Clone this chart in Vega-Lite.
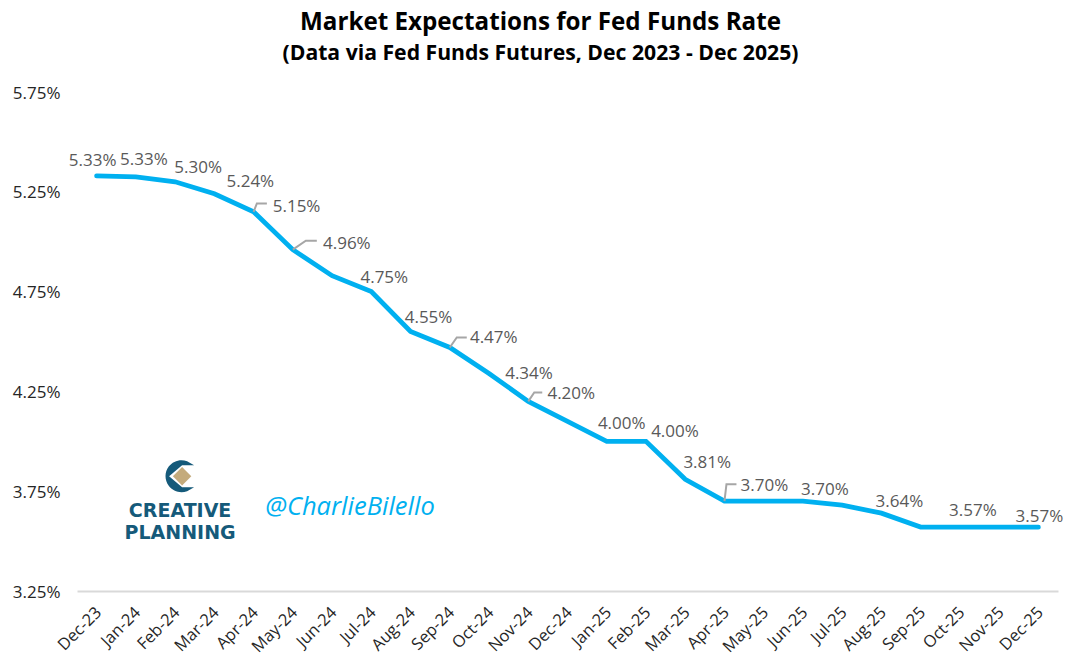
{
  "$schema": "https://vega.github.io/schema/vega-lite/v6.json",
  "autosize": "none",
  "padding": {"left": 77, "top": 92, "right": 23, "bottom": 72},
  "width": 981,
  "height": 499,
  "background": "white",
  "title": {
    "text": "Market Expectations for Fed Funds Rate",
    "subtitle": "(Data via Fed Funds Futures, Dec 2023 - Dec 2025)",
    "anchor": "middle",
    "dx": -27,
    "offset": 20,
    "font": "Open Sans",
    "fontSize": 24.2,
    "fontWeight": "bold",
    "color": "black",
    "subtitleFont": "Open Sans",
    "subtitleFontSize": 21.2,
    "subtitleFontWeight": "bold",
    "subtitleColor": "black",
    "subtitlePadding": 8
  },
  "datasets": {
    "brand": [
      {"name": "CREATIVE", "month": "Feb-24", "value": 3.75},
      {"name": "PLANNING", "month": "Feb-24", "value": 3.75},
      {"name": "@CharlieBilello", "month": "Jun-24", "value": 3.75}
    ]
  },
  "data": {
    "values": [
      {"month": "Dec-23", "rate": 5.33, "label": "5.33%"},
      {"month": "Jan-24", "rate": 5.325, "label": "5.33%"},
      {"month": "Feb-24", "rate": 5.3, "label": "5.30%"},
      {"month": "Mar-24", "rate": 5.24, "label": "5.24%"},
      {"month": "Apr-24", "rate": 5.15, "label": "5.15%"},
      {"month": "May-24", "rate": 4.96, "label": "4.96%"},
      {"month": "Jun-24", "rate": 4.83},
      {"month": "Jul-24", "rate": 4.75, "label": "4.75%"},
      {"month": "Aug-24", "rate": 4.55, "label": "4.55%"},
      {"month": "Sep-24", "rate": 4.47, "label": "4.47%"},
      {"month": "Oct-24", "rate": 4.34, "label": "4.34%"},
      {"month": "Nov-24", "rate": 4.2, "label": "4.20%"},
      {"month": "Dec-24", "rate": 4.1},
      {"month": "Jan-25", "rate": 4.0, "label": "4.00%"},
      {"month": "Feb-25", "rate": 4.0, "label": "4.00%"},
      {"month": "Mar-25", "rate": 3.81, "label": "3.81%"},
      {"month": "Apr-25", "rate": 3.7, "label": "3.70%"},
      {"month": "May-25", "rate": 3.7},
      {"month": "Jun-25", "rate": 3.7, "label": "3.70%"},
      {"month": "Jul-25", "rate": 3.68},
      {"month": "Aug-25", "rate": 3.64, "label": "3.64%"},
      {"month": "Sep-25", "rate": 3.57},
      {"month": "Oct-25", "rate": 3.57, "label": "3.57%"},
      {"month": "Nov-25", "rate": 3.57},
      {"month": "Dec-25", "rate": 3.57, "label": "3.57%"}
    ]
  },
  "encoding": {
    "x": {
      "field": "month",
      "type": "nominal",
      "sort": null,
      "title": null,
      "scale": {"type": "point", "padding": 0.5},
      "axis": {
        "labelAngle": -45,
        "labelAlign": "right",
        "labelBaseline": "top",
        "labelFont": "Open Sans",
        "labelFontSize": 16.5,
        "labelColor": "#262626",
        "labelPadding": 13,
        "labelOffset": -4,
        "labelOverlap": false,
        "ticks": false,
        "domainColor": "#d9d9d9",
        "domainWidth": 2,
        "grid": false
      }
    },
    "y": {
      "field": "rate",
      "type": "quantitative",
      "title": null,
      "scale": {"domain": [3.25, 5.75]},
      "axis": {
        "values": [3.25, 3.75, 4.25, 4.75, 5.25, 5.75],
        "labelExpr": "format(datum.value, '.2f') + '%'",
        "labelFont": "Open Sans",
        "labelFontSize": 17,
        "labelColor": "#262626",
        "labelPadding": 17,
        "labelOffset": 1,
        "ticks": false,
        "domain": false,
        "grid": false
      }
    },
    "text": {"field": "label", "type": "nominal"}
  },
  "config": {
    "view": {"stroke": null},
    "text": {"font": "Open Sans", "fontSize": 17, "color": "#595959", "baseline": "middle", "align": "center"}
  },
  "layer": [
    {"mark": {"type": "line", "stroke": "#00B0F0", "strokeWidth": 4.8, "strokeCap": "round", "strokeJoin": "miter"}},
    {"transform": [{"filter": "datum.month == 'Apr-24'"}], "mark": {"type": "point", "shape": "M0,0L3.3,-8.3L13.3,-8.3", "size": 4, "filled": false, "stroke": "#a6a6a6", "strokeWidth": 2, "opacity": 1}},
    {"transform": [{"filter": "datum.month == 'May-24'"}], "mark": {"type": "point", "shape": "M0,0L13,-9L24,-9", "size": 4, "filled": false, "stroke": "#a6a6a6", "strokeWidth": 2, "opacity": 1}},
    {"transform": [{"filter": "datum.month == 'Sep-24'"}], "mark": {"type": "point", "shape": "M0,0L7,-10L17,-10", "size": 4, "filled": false, "stroke": "#a6a6a6", "strokeWidth": 2, "opacity": 1}},
    {"transform": [{"filter": "datum.month == 'Nov-24'"}], "mark": {"type": "point", "shape": "M0,0L6,-9L14,-9", "size": 4, "filled": false, "stroke": "#a6a6a6", "strokeWidth": 2, "opacity": 1}},
    {"transform": [{"filter": "datum.month == 'Apr-25'"}], "mark": {"type": "point", "shape": "M0,0L2,-17L12,-17", "size": 4, "filled": false, "stroke": "#a6a6a6", "strokeWidth": 2, "opacity": 1}},
    {"transform": [{"filter": "datum.month == 'Dec-23'"}], "mark": {"type": "text", "dx": -4, "dy": -15}},
    {"transform": [{"filter": "datum.month == 'Jan-24'"}], "mark": {"type": "text", "dx": 8, "dy": -17}},
    {"transform": [{"filter": "datum.month == 'Feb-24'"}], "mark": {"type": "text", "dx": 23, "dy": -14}},
    {"transform": [{"filter": "datum.month == 'Mar-24'"}], "mark": {"type": "text", "dx": 36, "dy": -12}},
    {"transform": [{"filter": "datum.month == 'Apr-24'"}], "mark": {"type": "text", "dx": 43, "dy": -5}},
    {"transform": [{"filter": "datum.month == 'May-24'"}], "mark": {"type": "text", "dx": 54, "dy": -6}},
    {"transform": [{"filter": "datum.month == 'Jul-24'"}], "mark": {"type": "text", "dx": 13, "dy": -14}},
    {"transform": [{"filter": "datum.month == 'Aug-24'"}], "mark": {"type": "text", "dx": 18, "dy": -14}},
    {"transform": [{"filter": "datum.month == 'Sep-24'"}], "mark": {"type": "text", "dx": 44, "dy": -9}},
    {"transform": [{"filter": "datum.month == 'Oct-24'"}], "mark": {"type": "text", "dx": 40, "dy": 1}},
    {"transform": [{"filter": "datum.month == 'Nov-24'"}], "mark": {"type": "text", "dx": 43, "dy": -7}},
    {"transform": [{"filter": "datum.month == 'Jan-25'"}], "mark": {"type": "text", "dx": 15, "dy": -17}},
    {"transform": [{"filter": "datum.month == 'Feb-25'"}], "mark": {"type": "text", "dx": 29, "dy": -9}},
    {"transform": [{"filter": "datum.month == 'Mar-25'"}], "mark": {"type": "text", "dx": 22, "dy": -16}},
    {"transform": [{"filter": "datum.month == 'Apr-25'"}], "mark": {"type": "text", "dx": 40, "dy": -15}},
    {"transform": [{"filter": "datum.month == 'Jun-25'"}], "mark": {"type": "text", "dx": 22, "dy": -11}},
    {"transform": [{"filter": "datum.month == 'Aug-25'"}], "mark": {"type": "text", "dx": 18, "dy": -11}},
    {"transform": [{"filter": "datum.month == 'Oct-25'"}], "mark": {"type": "text", "dx": 13, "dy": -16}},
    {"transform": [{"filter": "datum.month == 'Dec-25'"}], "mark": {"type": "text", "dx": 1, "dy": -10}},
    {
      "data": {"name": "brand"},
      "transform": [{"filter": "datum.name == 'CREATIVE'"}],
      "mark": {"type": "point", "shape": "M8,-15A16,16 0 1 0 8,15L15,11L3,11L-10,0L3,-11L15,-11Z", "size": 4, "filled": true, "fill": "#155A7A", "opacity": 1, "xOffset": 4, "yOffset": -15},
      "encoding": {"y": {"field": "value", "type": "quantitative"}, "text": {"value": ""}}
    },
    {
      "data": {"name": "brand"},
      "transform": [{"filter": "datum.name == 'CREATIVE'"}],
      "mark": {"type": "point", "shape": "diamond", "size": 340, "filled": true, "fill": "#C4AB7C", "opacity": 1, "xOffset": 7, "yOffset": -15},
      "encoding": {"y": {"field": "value", "type": "quantitative"}, "text": {"value": ""}}
    },
    {
      "data": {"name": "brand"},
      "transform": [{"filter": "datum.name == 'CREATIVE'"}],
      "mark": {"type": "text", "font": "DejaVu Sans", "fontWeight": "bold", "fontSize": 19, "color": "#155A7A", "dx": 5, "dy": 20},
      "encoding": {"y": {"field": "value", "type": "quantitative"}, "text": {"field": "name"}}
    },
    {
      "data": {"name": "brand"},
      "transform": [{"filter": "datum.name == 'PLANNING'"}],
      "mark": {"type": "text", "font": "DejaVu Sans", "fontWeight": "bold", "fontSize": 19, "color": "#155A7A", "dx": 5, "dy": 42},
      "encoding": {"y": {"field": "value", "type": "quantitative"}, "text": {"field": "name"}}
    },
    {
      "data": {"name": "brand"},
      "transform": [{"filter": "datum.name == '@CharlieBilello'"}],
      "mark": {"type": "text", "font": "Open Sans", "fontStyle": "italic", "fontSize": 25.5, "color": "#00B0F0", "dx": 18, "dy": 16},
      "encoding": {"y": {"field": "value", "type": "quantitative"}, "text": {"field": "name"}}
    }
  ]
}
